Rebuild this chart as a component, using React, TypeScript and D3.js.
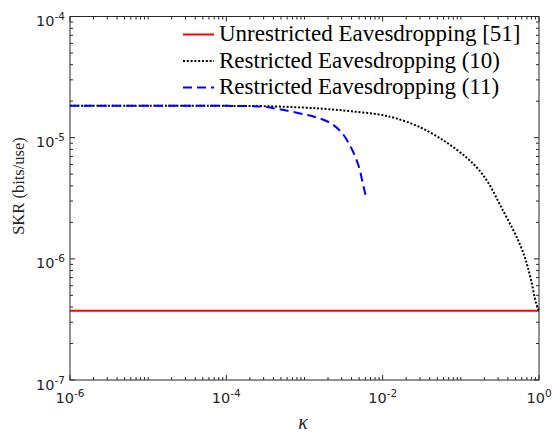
import React from "react";
import * as d3 from "d3";

const W = 553;
const H = 433;

// Series data
const kappaUnres = [1e-6, 1e-4, 1e-2, 1];
const skrUnres = [3.72e-7, 3.72e-7, 3.72e-7, 3.72e-7];

const kappa10 = [1e-6, 1e-5, 1e-4, 3e-4, 1e-3, 2e-3, 4e-3, 9e-3, 0.0145, 0.03, 0.063, 0.12, 0.167, 0.224, 0.331, 0.49, 0.58, 0.658, 0.72, 0.8, 0.88, 0.94, 1.0];
const skr10 = [1.83e-5, 1.83e-5, 1.83e-5, 1.82e-5, 1.77e-5, 1.72e-5, 1.65e-5, 1.55e-5, 1.45e-5, 1.22e-5, 9.3e-6, 6.8e-6, 5.5e-6, 4.25e-6, 2.65e-6, 1.63e-6, 1.28e-6, 1.03e-6, 8.5e-7, 6.5e-7, 4.8e-7, 4.1e-7, 3.72e-7];

const kappa11 = [1e-6, 1e-5, 1e-4, 2.9e-4, 4.7e-4, 8.5e-4, 1.39e-3, 2.16e-3, 3.03e-3, 4.07e-3, 4.95e-3, 5.56e-3, 6.02e-3];
const skr11 = [1.83e-5, 1.83e-5, 1.83e-5, 1.8e-5, 1.72e-5, 1.59e-5, 1.476e-5, 1.317e-5, 1.09e-5, 7.94e-6, 5.78e-6, 4.22e-6, 3.38e-6];

const legendLabels = [
  "Unrestricted Eavesdropping [51]",
  "Restricted Eavesdropping (10)",
  "Restricted Eavesdropping (11)",
];

const xTickExps = [-6, -4, -2, 0];
const yTickExps = [-7, -6, -5, -4];

const X0 = 70, X1 = 539, Y0 = 380, Y1 = 16.5;

const SERIF = "'Liberation Serif', 'Times New Roman', Times, serif";
const SANS = "'DejaVu Sans', sans-serif";

export default function App() {
  const x = d3.scaleLog().domain([1e-6, 1]).range([X0, X1]);
  const y = d3.scaleLog().domain([1e-7, 1e-4]).range([Y0, Y1]);

  const line = d3
    .line<[number, number]>()
    .x((d) => x(d[0]))
    .y((d) => y(d[1]))
    .curve(d3.curveCatmullRom.alpha(0.5));

  const zip = (a: number[], b: number[]) => a.map((v, i) => [v, b[i]] as [number, number]);

  const xMinor: number[] = [];
  for (let e = -6; e < 0; e++) {
    for (let m = 1; m <= 9; m++) {
      if (m === 1 && xTickExps.includes(e)) continue;
      xMinor.push(m * Math.pow(10, e));
    }
  }
  const yMinor: number[] = [];
  for (let e = -7; e < -4; e++) {
    for (let m = 2; m <= 9; m++) yMinor.push(m * Math.pow(10, e));
  }

  const axisColor = "#262626";
  const majLen = 5, minLen = 3;

  const series = [
    { data: zip(kappaUnres, skrUnres), color: "#ff0000", dash: undefined as string | undefined },
    { data: zip(kappa10, skr10), color: "#000000", dash: "2,1.8" },
    { data: zip(kappa11, skr11), color: "#0000ff", dash: "9,5" },
  ];

  return (
    <svg width={W} height={H} style={{ position: "absolute", left: 0, top: 0, background: "#fff" }}>
      <rect x={0} y={0} width={W} height={H} fill="#fff" />

      {series.map((s, i) => (
        <path key={i} d={line(s.data) || ""} fill="none" stroke={s.color} strokeWidth={2} strokeDasharray={s.dash} />
      ))}

      <rect x={X0} y={Y1} width={X1 - X0} height={Y0 - Y1} fill="none" stroke={axisColor} strokeWidth={1} />

      {xTickExps.map((e) => {
        const px = x(Math.pow(10, e));
        return (
          <g key={"xt" + e}>
            <line x1={px} x2={px} y1={Y0} y2={Y0 - majLen} stroke={axisColor} />
            <line x1={px} x2={px} y1={Y1} y2={Y1 + majLen} stroke={axisColor} />
            <text x={px} y={403} textAnchor="middle" fontFamily={SANS} fontSize={14.5} fill={axisColor}>
              <tspan>10</tspan>
              <tspan fontSize={10.5} dy={-6}>{String(e)}</tspan>
            </text>
          </g>
        );
      })}
      {xMinor.map((v, i) => {
        const px = x(v);
        return (
          <g key={"xm" + i}>
            <line x1={px} x2={px} y1={Y0} y2={Y0 - minLen} stroke={axisColor} />
            <line x1={px} x2={px} y1={Y1} y2={Y1 + minLen} stroke={axisColor} />
          </g>
        );
      })}

      {yTickExps.map((e) => {
        const py = y(Math.pow(10, e));
        return (
          <g key={"yt" + e}>
            <line x1={X0} x2={X0 + majLen} y1={py} y2={py} stroke={axisColor} />
            <line x1={X1} x2={X1 - majLen} y1={py} y2={py} stroke={axisColor} />
            <text x={65} y={py + 9.6} textAnchor="end" fontFamily={SANS} fontSize={14.5} fill={axisColor}>
              <tspan>10</tspan>
              <tspan fontSize={10.5} dy={-6}>{String(e)}</tspan>
            </text>
          </g>
        );
      })}
      {yMinor.map((v, i) => {
        const py = y(v);
        return (
          <g key={"ym" + i}>
            <line x1={X0} x2={X0 + minLen} y1={py} y2={py} stroke={axisColor} />
            <line x1={X1} x2={X1 - minLen} y1={py} y2={py} stroke={axisColor} />
          </g>
        );
      })}

      <text x={303} y={429} textAnchor="middle" fontFamily={SERIF} fontStyle="italic" fontSize={20} fill={axisColor}>
        κ
      </text>
      <text transform="translate(24,186) rotate(-90)" textAnchor="middle" fontFamily={SERIF} fontSize={16.5} fill={axisColor}>
        SKR (bits/use)
      </text>

      {legendLabels.map((lab, i) => {
        const by = 41 + i * 26.5;
        const s = series[i];
        return (
          <g key={"lg" + i}>
            <line x1={183} x2={214} y1={by - 6.5} y2={by - 6.5} stroke={s.color} strokeWidth={2} strokeDasharray={s.dash} />
            <text x={219} y={by} fontFamily={SERIF} fontSize={23} fill="#000">
              {lab}
            </text>
          </g>
        );
      })}
    </svg>
  );
}
